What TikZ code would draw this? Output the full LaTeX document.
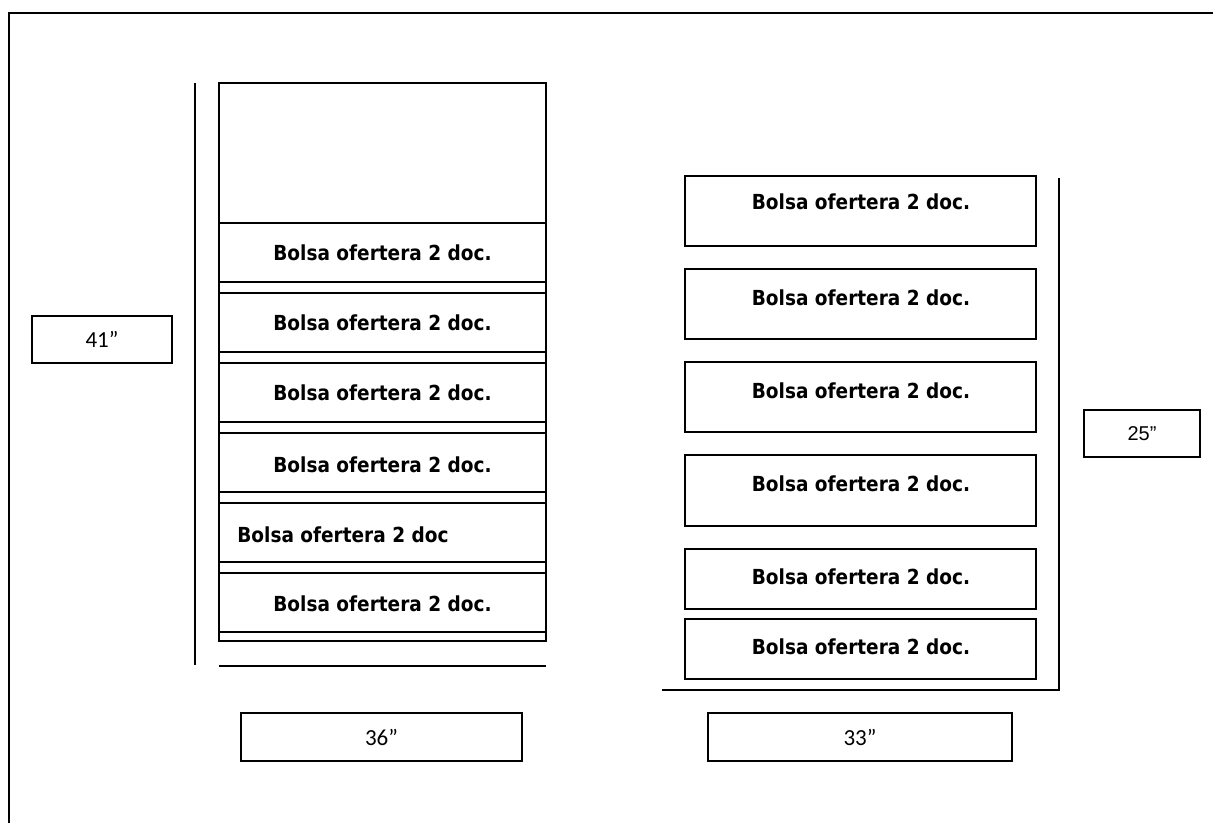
\documentclass[tikz,border=0pt]{standalone}
\usepackage{fontspec}
\newfontfamily\boxfont{DejaVu Sans}
\newfontfamily\dimfont{Carlito}
\newfontfamily\arialfont{Liberation Sans}
\begin{document}
\begin{tikzpicture}[x=1pt,y=-1pt,
  frameline/.style={line width=1.9pt},
  boxrect/.style={draw, line width=1.7pt, rectangle, inner sep=0pt},
  boxtext/.style={font=\boxfont\bfseries\fontsize{18.5}{21}\selectfont, inner sep=0pt, yscale=1.12},
  dimbox/.style={draw, line width=1.7pt, rectangle, inner sep=0pt},
  dimtext/.style={font=\dimfont\fontsize{23}{26}\selectfont, inner sep=0pt},
  guide/.style={line width=1.7pt}]
\useasboundingbox (0,0) rectangle (1213,823);
% outer frame (left and top edges)
\coordinate (fbl) at (9,823);
\coordinate (ftl) at (9,13);
\coordinate (ftr) at (1213,13);
\draw[frameline] (fbl) -- (ftl) -- (ftr);

% left cabinet
\node[boxrect, minimum width=327pt, minimum height=558pt] (Louter) at (382.5,362) {};
\foreach \t/\n in {223/L1,293/L2,363/L3,433/L4,503/L5,573/L6}{
  \node[boxrect, minimum width=327pt, minimum height=59pt] (\n) at (382.5,\t+29.5) {};
}
\node[boxtext] (T1) at (L1) {Bolsa ofertera 2 doc.};
\node[boxtext] (T2) at (L2) {Bolsa ofertera 2 doc.};
\node[boxtext] (T3) at (L3) {Bolsa ofertera 2 doc.};
\node[boxtext] (T4) at ([yshift=-2pt]L4) {Bolsa ofertera 2 doc.};
\node[boxtext, anchor=west] (T5) at ([xshift=19pt,yshift=-2pt]L5.west) {Bolsa ofertera 2 doc};
\node[boxtext] (T6) at ([yshift=-1pt]L6) {Bolsa ofertera 2 doc.};

\coordinate (lvt) at (195,83);
\coordinate (lvb) at (195,665);
\draw[guide] (lvt) -- (lvb);
\coordinate (lhl) at (219,666);
\coordinate (lhr) at (546,666);
\draw[guide] (lhl) -- (lhr);

% right cabinet
\node[boxrect, minimum width=351pt, minimum height=70pt] (R1) at (860.5,211) {};
\node[boxrect, minimum width=351pt, minimum height=70pt] (R2) at (860.5,304) {};
\node[boxrect, minimum width=351pt, minimum height=70pt] (R3) at (860.5,397) {};
\node[boxrect, minimum width=351pt, minimum height=71pt] (R4) at (860.5,490.5) {};
\node[boxrect, minimum width=351pt, minimum height=60pt] (R5) at (860.5,579) {};
\node[boxrect, minimum width=351pt, minimum height=60pt] (R6) at (860.5,649) {};
\node[boxtext] (S1) at (861,202) {Bolsa ofertera 2 doc.};
\node[boxtext] (S2) at (861,298) {Bolsa ofertera 2 doc.};
\node[boxtext] (S3) at (861,391) {Bolsa ofertera 2 doc.};
\node[boxtext] (S4) at (861,484) {Bolsa ofertera 2 doc.};
\node[boxtext] (S5) at (861,577) {Bolsa ofertera 2 doc.};
\node[boxtext] (S6) at (861,647) {Bolsa ofertera 2 doc.};

\coordinate (rbl) at (662,690);
\coordinate (rbr) at (1059,690);
\coordinate (rvt) at (1059,178);
\draw[guide] (rbl) -- (rbr) -- (rvt);

% dimension labels
\node[dimbox, minimum width=140pt, minimum height=47pt] (D41) at (102,339.5) {};
\node[dimtext] at (D41) {41”};
\node[dimbox, minimum width=281pt, minimum height=48pt] (D36) at (381.5,737) {};
\node[dimtext] at (D36) {36”};
\node[dimbox, minimum width=304pt, minimum height=48pt] (D33) at (860,737) {};
\node[dimtext] at (D33) {33”};
\node[dimbox, minimum width=116pt, minimum height=47pt] (D25) at (1142,433.5) {};
\node[font=\arialfont\fontsize{20}{23}\selectfont, inner sep=0pt] at (D25) {25”};
\end{tikzpicture}
\end{document}
